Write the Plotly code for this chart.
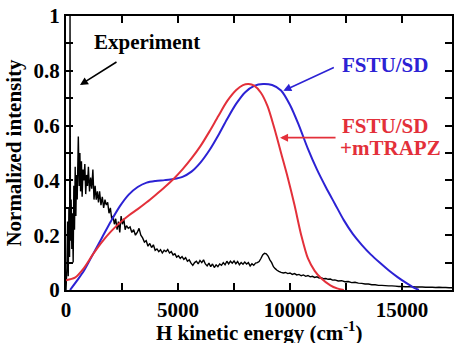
import plotly.graph_objects as go

# ---- data ----
blue_x = [180, 500, 800, 1200, 1600, 2000, 2400, 2800, 3200, 3600, 4000, 4400, 4800, 5200, 5600, 6000,
          6400, 6800, 7200, 7600, 8000, 8400, 8800, 9200, 9600, 10000, 10400, 10800, 11200, 11600, 12000,
          12400, 12800, 13200, 13600, 14000, 14400, 14800, 15200, 15500, 15750]
blue_y = [0.0, 0.035, 0.07, 0.13, 0.19, 0.25, 0.305, 0.348, 0.376, 0.392, 0.398, 0.401, 0.405, 0.413, 0.432, 0.465,
          0.51, 0.565, 0.625, 0.68, 0.722, 0.745, 0.752, 0.748, 0.728, 0.675, 0.60, 0.515, 0.44, 0.375, 0.315,
          0.255, 0.205, 0.165, 0.13, 0.10, 0.072, 0.047, 0.025, 0.01, 0.0]

red_x = [0, 400, 800, 1200, 1600, 2000, 2400, 2800, 3200, 3600, 4000, 4400, 4800, 5200, 5600, 6000, 6400,
         6800, 7200, 7600, 7900, 8150, 8400, 8700, 9000, 9300, 9600, 9900, 10200, 10500, 10800, 11100,
         11400, 11800, 12100, 12400]
red_y = [0.036, 0.045, 0.08, 0.13, 0.175, 0.213, 0.245, 0.272, 0.295, 0.32, 0.347, 0.375, 0.405, 0.44, 0.48, 0.525, 0.578,
         0.635, 0.69, 0.73, 0.748, 0.752, 0.746, 0.72, 0.67, 0.59, 0.50, 0.41, 0.31, 0.20, 0.115, 0.07,
         0.042, 0.017, 0.006, 0.0]

exp_x = [0, 40, 70, 100, 130, 160, 180, 200, 230, 260, 290, 320, 350, 380, 410, 440, 470, 500, 550, 590,
         620, 650, 690, 720, 760, 800, 840, 880, 920, 960, 1000, 1050, 1100, 1150, 1200, 1250, 1300, 1350,
         1400, 1450, 1500, 1560, 1620, 1680, 1740, 1800, 1860, 1920, 1980, 2040, 2100, 2160, 2220, 2280,
         2340, 2400, 2460, 2520, 2580, 2640, 2700, 2780, 2860, 2940, 3020, 3100, 3180, 3260, 3340, 3420,
         3500, 3580, 3660, 3740, 3820, 3900, 3980, 4060, 4140, 4220, 4300, 4380, 4460, 4540, 4620, 4700,
         4780, 4860, 4940, 5020, 5100, 5180, 5260, 5340, 5420, 5500, 5580, 5660, 5740, 5820, 5900, 5980,
         6060, 6140, 6220, 6300, 6380, 6460, 6540, 6620, 6700, 6780, 6860, 6940, 7020, 7100, 7180, 7260,
         7340, 7420, 7500, 7580, 7660, 7740, 7820, 7900, 7980, 8060, 8140, 8220, 8300, 8380, 8460, 8540,
         8620, 8700, 8780, 8860, 8940, 9020, 9100, 9180, 9260, 9340, 9420, 9500, 9600, 9700, 9800, 9900,
         10000, 10100, 10200, 10300, 10400, 10500, 10600, 10700, 10800, 10900, 11000, 11100, 11200, 11300,
         11400, 11500, 11600, 11700, 11800, 11900, 12000, 12150, 12300, 12450, 12600, 12750, 12900, 13050,
         13200, 13350, 13500, 13650, 13800, 13950, 14100, 14250, 14400, 14550, 14700, 14850, 15000, 15150,
         15300, 15450, 15600, 15750, 15900, 16050, 16200, 16350, 16500, 16650, 16800, 16950, 17100, 17250]
exp_y = [0.0, 0.08, 0.25, 0.05, 0.30, 0.12, 1.0, 0.18, 0.33, 0.15, 0.28, 0.10, 0.38, 0.22, 0.45, 0.27, 0.42, 0.33, 0.56, 0.38,
         0.50, 0.36, 0.47, 0.34, 0.44, 0.40, 0.46, 0.35, 0.42, 0.38, 0.45, 0.36, 0.41, 0.37, 0.44, 0.33, 0.38, 0.33,
         0.36, 0.32, 0.36, 0.31, 0.34, 0.30, 0.33, 0.31, 0.32, 0.28, 0.30, 0.26, 0.27, 0.24, 0.26, 0.22,
         0.25, 0.21, 0.27, 0.24, 0.26, 0.22, 0.235, 0.225, 0.23, 0.21, 0.22, 0.20, 0.21, 0.225, 0.20, 0.19,
         0.175, 0.18, 0.16, 0.17, 0.155, 0.165, 0.145, 0.15, 0.14, 0.147, 0.135, 0.145, 0.14, 0.148, 0.135, 0.14,
         0.128, 0.132, 0.12, 0.125, 0.115, 0.122, 0.112, 0.118, 0.105, 0.11, 0.098, 0.09, 0.10, 0.105, 0.095, 0.108,
         0.10, 0.11, 0.095, 0.088, 0.098, 0.085, 0.095, 0.082, 0.092, 0.085, 0.095, 0.09, 0.10, 0.092, 0.105, 0.095,
         0.105, 0.098, 0.106, 0.096, 0.104, 0.092, 0.10, 0.094, 0.102, 0.095, 0.10, 0.088, 0.096, 0.09, 0.098, 0.10,
         0.104, 0.115, 0.128, 0.134, 0.132, 0.124, 0.11, 0.10, 0.085, 0.078, 0.072, 0.068, 0.064, 0.062, 0.064, 0.06,
         0.062, 0.057, 0.06, 0.055, 0.057, 0.052, 0.055, 0.05, 0.053, 0.048, 0.05, 0.046, 0.048, 0.044,
         0.045, 0.041, 0.042, 0.039, 0.04, 0.036, 0.037, 0.033, 0.034, 0.03, 0.031, 0.027, 0.028, 0.025,
         0.024, 0.022, 0.022, 0.019, 0.019, 0.017, 0.017, 0.016, 0.015, 0.015, 0.014, 0.013, 0.013, 0.012,
         0.012, 0.012, 0.011, 0.011, 0.011, 0.01, 0.01, 0.01, 0.009, 0.01, 0.009, 0.009, 0.008, 0.008]

x_ticks = [0, 2500, 5000, 7500, 10000, 12500, 15000]
x_labels = ["0", "", "5000", "", "10000", "", "15000"]
y_ticks = [0, 0.1, 0.2, 0.3, 0.4, 0.5, 0.6, 0.7, 0.8, 0.9, 1.0]
y_labels = ["0", "", "0.2", "", "0.4", "", "0.6", "", "0.8", "", "1"]

BLUE = "#2c22d4"
RED = "#e3303a"
FONT = "Liberation Serif, Times New Roman, serif"

fig = go.Figure()
fig.add_trace(go.Scatter(x=exp_x, y=exp_y, mode="lines",
                         line=dict(color="black", width=1.4, simplify=False)))
fig.add_trace(go.Scatter(x=blue_x, y=blue_y, mode="lines",
                         line=dict(color=BLUE, width=2, shape="spline", smoothing=0.8)))
fig.add_trace(go.Scatter(x=red_x, y=red_y, mode="lines",
                         line=dict(color=RED, width=2, shape="spline", smoothing=0.8)))

def tfont(color="black", size=21):
    return dict(family=FONT, size=size, color=color, weight="bold")

axis_common = dict(showline=True, linecolor="black", linewidth=2, mirror="ticks", ticks="inside",
                   tickcolor="black", tickwidth=1.5, ticklen=7, showgrid=False, zeroline=False,
                   automargin=False, tickfont=tfont())

fig.update_xaxes(range=[0, 17230], tickvals=x_ticks, ticktext=x_labels, **axis_common)
fig.update_yaxes(range=[0, 1], tickvals=y_ticks, ticktext=y_labels, ticklabelstandoff=0,
                 title=dict(text="Normalized intensity", standoff=6, font=tfont()),
                 **axis_common)

annotations = [
    dict(xref="paper", yref="paper", x=0.5, y=-0.150, yanchor="middle",
         text="H kinetic energy (cm<sup>-1</sup>)", showarrow=False, font=tfont("black")),
    dict(x=3616, y=0.905, text="Experiment", showarrow=False, font=tfont("black")),
    dict(x=625, y=0.748, text="", showarrow=True, ax=38, ay=-24, arrowhead=2, arrowsize=1,
         arrowwidth=1.6, arrowcolor="black"),
    dict(x=14241, y=0.821, text="FSTU/SD", showarrow=False, font=tfont(BLUE)),
    dict(x=9701, y=0.727, text="", showarrow=True, ax=52, ay=-24, arrowhead=2, arrowsize=1,
         arrowwidth=1.6, arrowcolor=BLUE),
    dict(x=14241, y=0.598, text="FSTU/SD", showarrow=False, font=tfont(RED)),
    dict(x=14464, y=0.520, text="+mTRAPZ", showarrow=False, font=tfont(RED)),
    dict(x=9554, y=0.556, text="", showarrow=True, ax=57, ay=0, arrowhead=2, arrowsize=1,
         arrowwidth=1.6, arrowcolor=RED),
]

fig.update_layout(width=459, height=343, margin=dict(l=66, r=7, t=16, b=53),
                  plot_bgcolor="white", paper_bgcolor="white", showlegend=False,
                  annotations=annotations)

fig.write_html("out.html", config={"displayModeBar": False},
               post_script="document.body.style.margin='0';")
